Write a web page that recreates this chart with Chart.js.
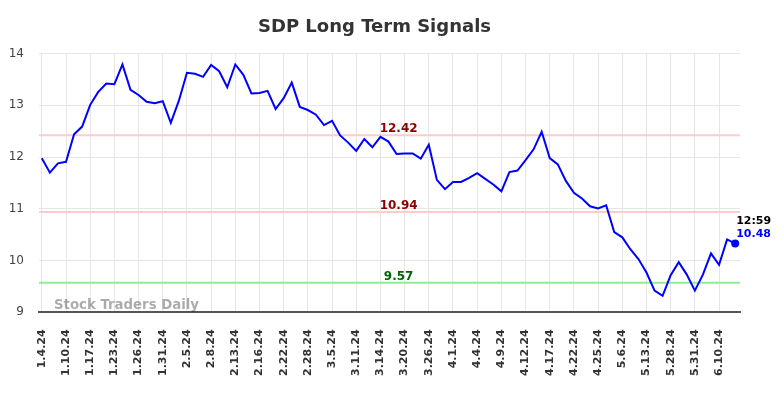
<!DOCTYPE html>
<html>
<head>
<meta charset="utf-8">
<script src="https://cdn.jsdelivr.net/npm/chart.js@4/dist/chart.umd.min.js"></script>
<style>
  html, body { margin: 0; padding: 0; background: #fff; }
  #wrap { width: 784px; height: 398px; }
</style>
</head>
<body>
<div id="wrap"><canvas id="c" width="784" height="398"></canvas></div>
<script>
const titleText = "SDP Long Term Signals";
const dates = [
  "1.4.24","1.5.24","1.8.24","1.10.24","1.11.24","1.16.24","1.17.24","1.18.24","1.22.24",
  "1.23.24","1.24.24","1.25.24","1.26.24","1.29.24","1.30.24","1.31.24","2.1.24","2.2.24",
  "2.5.24","2.6.24","2.7.24","2.8.24","2.9.24","2.12.24","2.13.24","2.14.24","2.15.24",
  "2.16.24","2.20.24","2.21.24","2.22.24","2.26.24","2.27.24","2.28.24","3.1.24","3.4.24",
  "3.5.24","3.7.24","3.8.24","3.11.24","3.12.24","3.13.24","3.14.24","3.15.24","3.18.24",
  "3.20.24","3.21.24","3.22.24","3.26.24","3.27.24","3.28.24","4.1.24","4.2.24","4.3.24",
  "4.4.24","4.5.24","4.8.24","4.9.24","4.10.24","4.11.24","4.12.24","4.15.24","4.16.24",
  "4.17.24","4.18.24","4.19.24","4.22.24","4.23.24","4.24.24","4.25.24","4.29.24","5.1.24",
  "5.6.24","5.8.24","5.10.24","5.13.24","5.16.24","5.22.24","5.28.24","5.29.24","5.30.24",
  "5.31.24","6.4.24","6.6.24","6.10.24","6.12.24","6.13.24"
];
const prices = [
  11.98, 11.70, 11.88, 11.91, 12.44, 12.59, 13.01, 13.26, 13.42,
  13.41, 13.79, 13.30, 13.20, 13.07, 13.04, 13.08, 12.66, 13.09,
  13.63, 13.61, 13.55, 13.78, 13.66, 13.35, 13.79, 13.59, 13.23,
  13.24, 13.28, 12.93, 13.14, 13.44, 12.97, 12.91, 12.82, 12.62,
  12.70, 12.42, 12.28, 12.12, 12.35, 12.19, 12.39, 12.30, 12.06,
  12.07, 12.07, 11.97, 12.24, 11.56, 11.38, 11.52, 11.52, 11.60,
  11.69, 11.58, 11.47, 11.34, 11.71, 11.74, 11.94, 12.15, 12.49,
  11.98, 11.86, 11.54, 11.31, 11.20, 11.05, 11.01, 11.07, 10.55,
  10.45, 10.22, 10.03, 9.77, 9.42, 9.32, 9.72, 9.97, 9.73,
  9.42, 9.73, 10.14, 9.92, 10.41, 10.33
];
const tickEvery = 3;
const yTicks = [9, 10, 11, 12, 13, 14];
const levelValues = [12.42, 10.94, 9.57];
const levelLabels = ["12.42", "10.94", "9.57"];
const levelLineColors = ["#ffcccc", "#ffcccc", "#90ee90"];
const levelTextColors = ["#8b0000", "#8b0000", "#006400"];
const lastTime = "12:59";
const lastPriceLabel = "10.48";
const watermark = "Stock Traders Daily";

const FONT = "'DejaVu Sans', sans-serif";

const overlayPlugin = {
  id: 'overlay',
  beforeDatasetsDraw(chart) {
    const { ctx, chartArea: a, scales } = chart;
    const ys = scales.y;
    ctx.save();
    ctx.font = "bold 13.3px " + FONT;
    ctx.fillStyle = "rgba(0,0,0,0.33)";
    ctx.textAlign = "left";
    ctx.textBaseline = "alphabetic";
    ctx.fillText(watermark, a.left + 15, a.bottom - 3);
    levelValues.forEach((v, i) => {
      const y = ys.getPixelForValue(v);
      ctx.strokeStyle = levelLineColors[i];
      ctx.lineWidth = 2;
      ctx.beginPath();
      ctx.moveTo(a.left, y);
      ctx.lineTo(a.right, y);
      ctx.stroke();
    });
    ctx.restore();
  },
  afterDatasetsDraw(chart) {
    const { ctx, chartArea: a, scales } = chart;
    const ys = scales.y;
    ctx.save();
    ctx.font = "bold 12px " + FONT;
    ctx.textAlign = "center";
    ctx.textBaseline = "alphabetic";
    const cx = a.left + (a.right - a.left) * 0.513;
    levelValues.forEach((v, i) => {
      const y = ys.getPixelForValue(v);
      ctx.fillStyle = levelTextColors[i];
      ctx.fillText(levelLabels[i], cx, y - 3);
    });
    const meta = chart.getDatasetMeta(0);
    const last = meta.data[meta.data.length - 1];
    ctx.font = "bold 11px " + FONT;
    ctx.textAlign = "left";
    ctx.fillStyle = "#000";
    ctx.fillText(lastTime, last.x + 1, last.y - 20);
    ctx.fillStyle = "#0000ff";
    ctx.fillText(lastPriceLabel, last.x + 1, last.y - 7);
    ctx.restore();
  }
};

const n = prices.length;
const pointRadii = prices.map((_, i) => i === n - 1 ? 4 : 0);

new Chart(document.getElementById('c'), {
  type: 'line',
  data: {
    datasets: [{
      data: prices.map((p, i) => ({ x: i, y: p })),
      borderColor: '#0000ff',
      backgroundColor: '#0000ff',
      borderWidth: 2,
      pointRadius: pointRadii,
      pointHoverRadius: pointRadii,
      pointBorderWidth: 0,
      tension: 0,
      fill: false
    }]
  },
  options: {
    responsive: false,
    devicePixelRatio: 1,
    animation: false,
    events: [],
    layout: { padding: { left: 9, right: 44, top: 0, bottom: 5 } },
    plugins: {
      legend: { display: false },
      tooltip: { enabled: false },
      title: {
        display: true,
        text: titleText,
        color: '#333',
        font: { family: FONT, size: 18, weight: 'bold' },
        padding: { top: 17, bottom: 15 }
      }
    },
    scales: {
      x: {
        type: 'linear',
        min: -0.35,
        max: n - 1 + 0.6,
        afterBuildTicks(scale) {
          const t = [];
          for (let i = 0; i < n; i += tickEvery) t.push({ value: i });
          scale.ticks = t;
        },
        ticks: {
          autoSkip: false,
          minRotation: 90,
          maxRotation: 90,
          padding: 17,
          color: '#333',
          font: { family: FONT, size: 11, weight: 'bold' },
          callback: (v) => dates[v]
        },
        grid: { color: '#e6e6e6', lineWidth: 1, drawTicks: false },
        border: { display: true, color: '#555', width: 2 }
      },
      y: {
        min: 9,
        max: 14,
        afterBuildTicks(scale) {
          scale.ticks = yTicks.map(v => ({ value: v }));
        },
        afterFit(scale) { scale.width = 30; },
        ticks: {
          padding: 15,
          color: '#444',
          font: { family: FONT, size: 12 }
        },
        grid: { color: '#e6e6e6', lineWidth: 1, drawTicks: false },
        border: { display: false }
      }
    }
  },
  plugins: [overlayPlugin]
});
</script>
</body>
</html>
